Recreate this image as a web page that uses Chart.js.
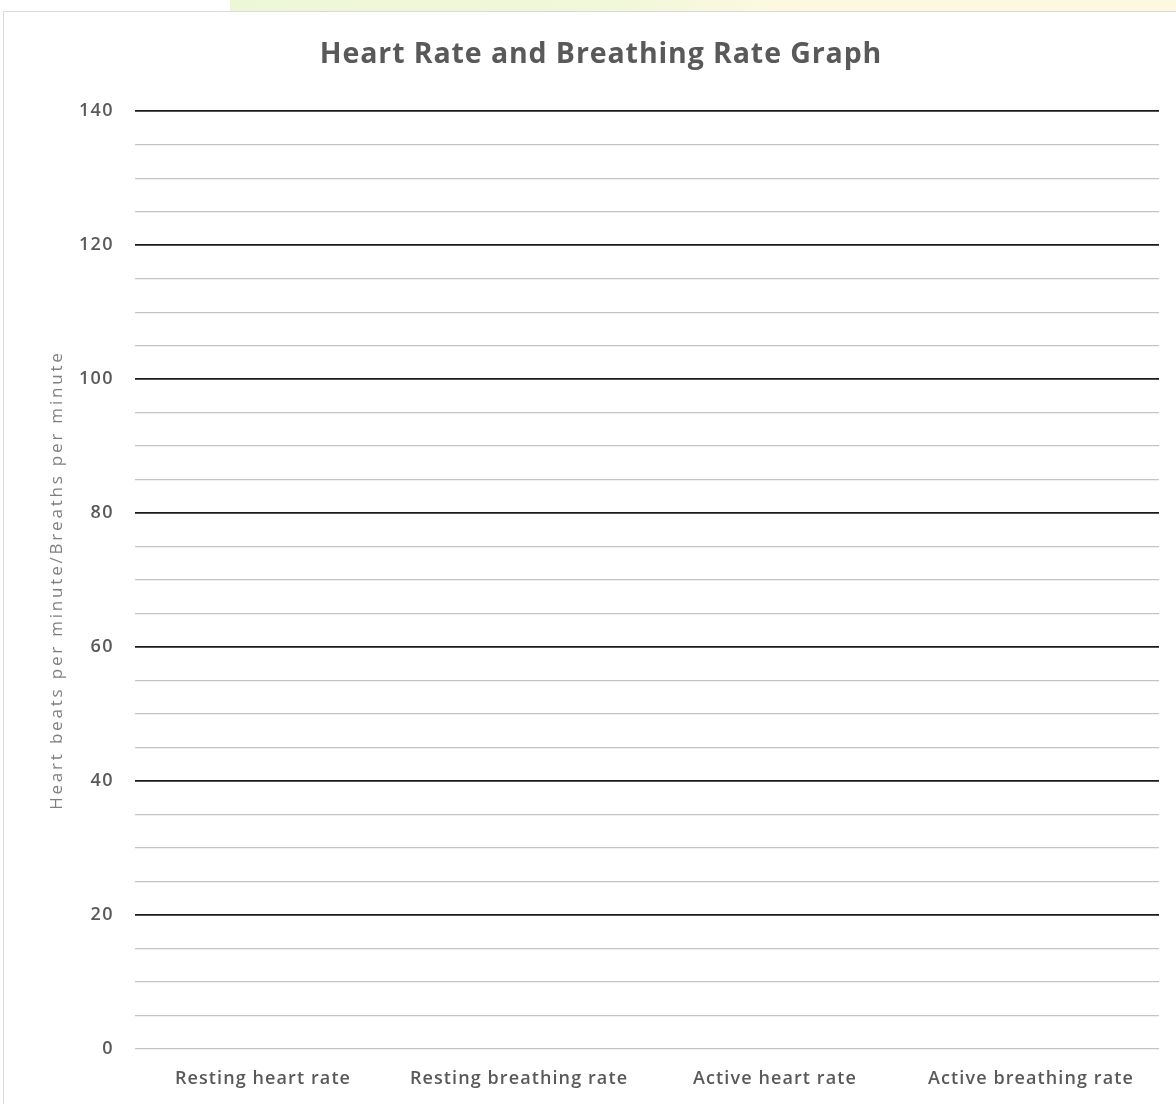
<!DOCTYPE html>
<html>
<head>
<meta charset="utf-8">
<script src="https://cdn.jsdelivr.net/npm/chart.js@4"></script>
<style>
    html, body { margin: 0; padding: 0; background: #fff; }
    #wrap { position: relative; width: 1176px; height: 1104px; overflow: hidden; }
    #band { position: absolute; left: 230px; top: 0; width: 946px; height: 11px;
            background: linear-gradient(90deg, #eef6d8 0%, #f1f7d9 40%, #fdf9e1 60%, #fdf9e1 100%); }
    #frame { position: absolute; left: 3px; top: 11px; width: 1180px; height: 1110px;
             border: 1px solid #d9d9d9; box-sizing: border-box; }
    canvas { position: absolute; left: 0; top: 0; }
</style>
</head>
<body>
<div id="wrap">
    <div id="band"></div>
    <div id="frame"></div>
    <canvas id="grafico" width="1176" height="1104"></canvas>
</div>
<script>
// categorias del eje X
const categorias = ['Resting heart rate', 'Resting breathing rate', 'Active heart rate', 'Active breathing rate'];
// la gráfica está vacía: no hay valores dibujados
const valores = [null, null, null, null];
// eje Y
const yMin = 0;
const yMax = 140;
const yPaso = 5;
const yPasoMayor = 20;

const gris = '#595959';
const padIzq = 43;

// espaciado entre letras (el original viene de Excel, letras más abiertas)
function espaciado(obj, fn, px) {
    if (!obj || !obj[fn] || obj[fn]._esp) return;
    const orig = obj[fn];
    obj[fn] = function (...args) {
        const c = this.ctx;
        c.save();
        c.letterSpacing = px + 'px';
        const r = orig.apply(this, args);
        c.restore();
        return r;
    };
    obj[fn]._esp = true;
}

const pluginEspaciado = {
    id: 'espaciado',
    afterUpdate(chart) {
        espaciado(chart.titleBlock, 'draw', 0.9);
        espaciado(chart.scales.y, 'drawTitle', 2.8);
        espaciado(chart.scales.y, 'drawLabels', 1.4);
        espaciado(chart.scales.x, 'drawLabels', 1.1);
    }
};

const esMayor = ctx => ctx.tick && ctx.tick.value % yPasoMayor === 0 && ctx.tick.value !== 0;

new Chart(document.getElementById('grafico'), {
    type: 'bar',
    data: {
        labels: categorias,
        datasets: [{ label: 'Valores', data: valores, backgroundColor: '#4472c4' }]
    },
    plugins: [pluginEspaciado],
    options: {
        responsive: false,
        animation: false,
        layout: { padding: { left: padIzq, right: 17, top: 0, bottom: 0 } },
        plugins: {
            legend: { display: false },
            tooltip: { enabled: false },
            title: {
                display: true,
                text: 'Heart Rate and Breathing Rate Graph',
                color: gris,
                font: { family: 'Open Sans', size: 28.5, weight: 'bold' },
                padding: { top: 38, bottom: 39 }
            }
        },
        scales: {
            x: {
                grid: { display: false },
                border: { display: false },
                ticks: {
                    color: gris,
                    padding: 11,
                    font: { family: 'Open Sans', size: 18, weight: '600' }
                },
                afterFit: s => { s.height = 55; }
            },
            y: {
                min: yMin,
                max: yMax,
                border: { display: false },
                grid: {
                    drawTicks: false,
                    color: ctx => esMayor(ctx) ? '#1a1a1a' : '#c4c4c4',
                    lineWidth: ctx => esMayor(ctx) ? 1.8 : 1.3
                },
                ticks: {
                    stepSize: yPaso,
                    color: gris,
                    padding: 21,
                    font: { family: 'Open Sans', size: 18, weight: '600' },
                    callback: v => v % yPasoMayor === 0 ? v : ''
                },
                title: {
                    display: true,
                    text: 'Heart beats per minute/Breaths per minute',
                    color: '#7f7f7f',
                    font: { family: 'Open Sans', size: 17 },
                    padding: { top: 4, bottom: 0 }
                },
                afterFit: s => { s.width = 135 - padIzq; }
            }
        }
    }
});
</script>
</body>
</html>
